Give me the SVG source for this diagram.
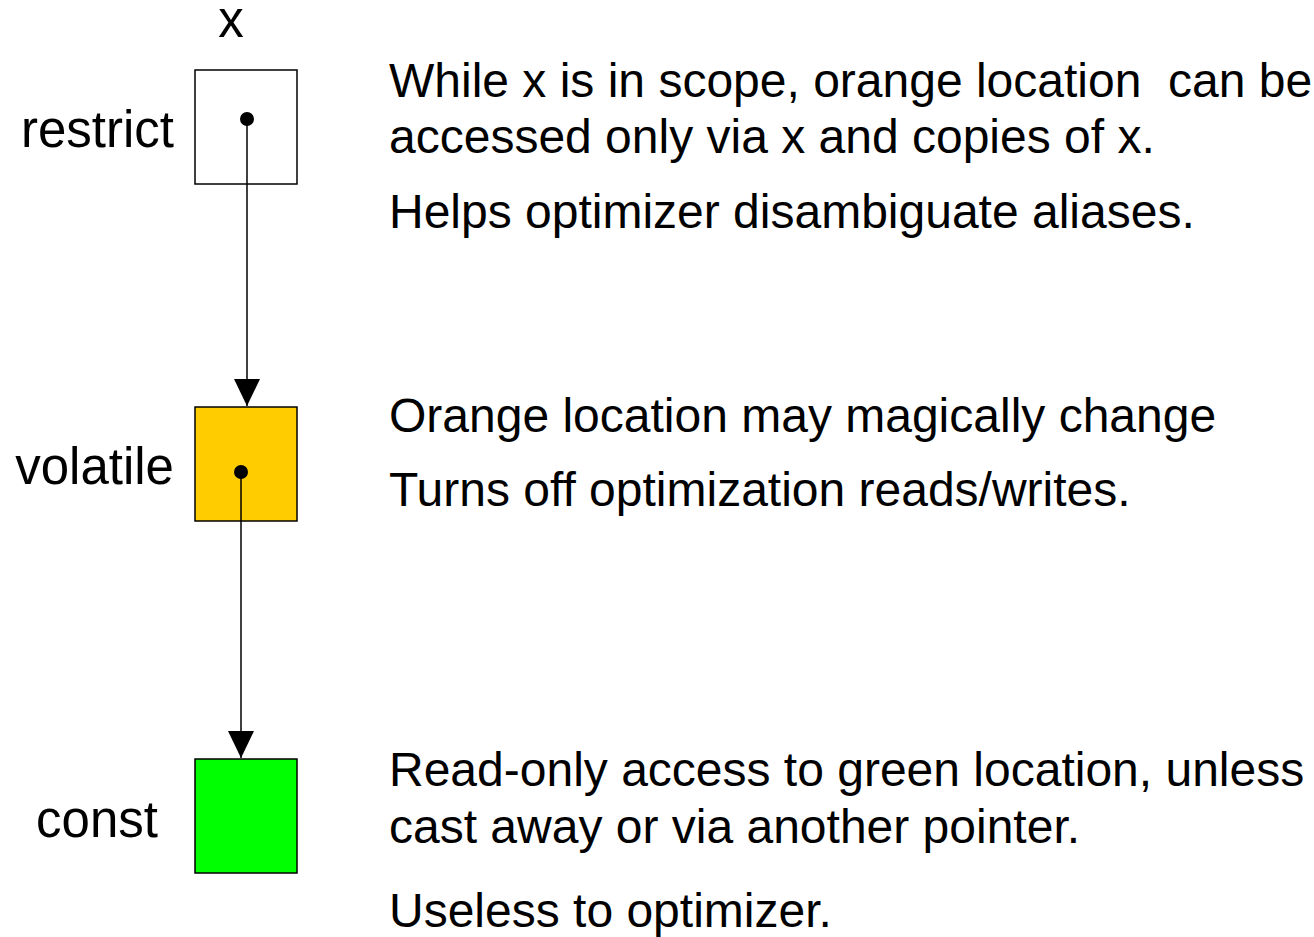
<svg xmlns="http://www.w3.org/2000/svg" width="1314" height="937" viewBox="0 0 1314 937">
<style>
.box{stroke:#000;stroke-width:1.5}
.lbl{font-family:"Liberation Sans",Arial,sans-serif;font-size:51px;fill:#000}
.txt{font-family:"Liberation Sans",Arial,sans-serif;font-size:48px;fill:#000;white-space:pre}
.conn{stroke:#000;stroke-width:1.5;fill:none}
</style>
<defs>
<marker id="arr" markerUnits="userSpaceOnUse" markerWidth="28" markerHeight="28" viewBox="0 0 28 28" refX="27" refY="14" orient="auto">
<path d="M0,1 L27,14 L0,27 Z" fill="#000"/>
</marker>
</defs>
<rect width="1314" height="937" fill="#fff"/>
<g id="restrict">
<rect class="box" x="195" y="70" width="102" height="114" fill="#fff"/>
<circle cx="247" cy="119" r="7" fill="#000"/>
<text class="lbl" x="174" y="147" text-anchor="end">restrict</text>
<text class="lbl" x="231" y="37" text-anchor="middle">x</text>
<text class="txt" x="389" y="97" xml:space="preserve">While x is in scope, orange location  can be</text>
<text class="txt" x="389" y="153">accessed only via x and copies of x.</text>
<text class="txt" x="389" y="228">Helps optimizer disambiguate aliases.</text>
</g>
<g id="volatile">
<rect class="box" x="195" y="407" width="102" height="114" fill="#FFCC00"/>
<circle cx="241" cy="472" r="7" fill="#000"/>
<text class="lbl" x="174" y="484" text-anchor="end">volatile</text>
<text class="txt" x="389" y="432">Orange location may magically change</text>
<text class="txt" x="389" y="506">Turns off optimization reads/writes.</text>
</g>
<g id="const">
<rect class="box" x="195" y="759" width="102" height="114" fill="#00FF00"/>
<text class="lbl" x="158" y="837" text-anchor="end">const</text>
<text class="txt" x="389" y="786">Read-only access to green location, unless</text>
<text class="txt" x="389" y="843">cast away or via another pointer.</text>
<text class="txt" x="389" y="927">Useless to optimizer.</text>
</g>
<g id="connectors">
<line class="conn" x1="247" y1="119" x2="247" y2="406" marker-end="url(#arr)"/>
<line class="conn" x1="241" y1="472" x2="241" y2="758" marker-end="url(#arr)"/>
</g>
</svg>
